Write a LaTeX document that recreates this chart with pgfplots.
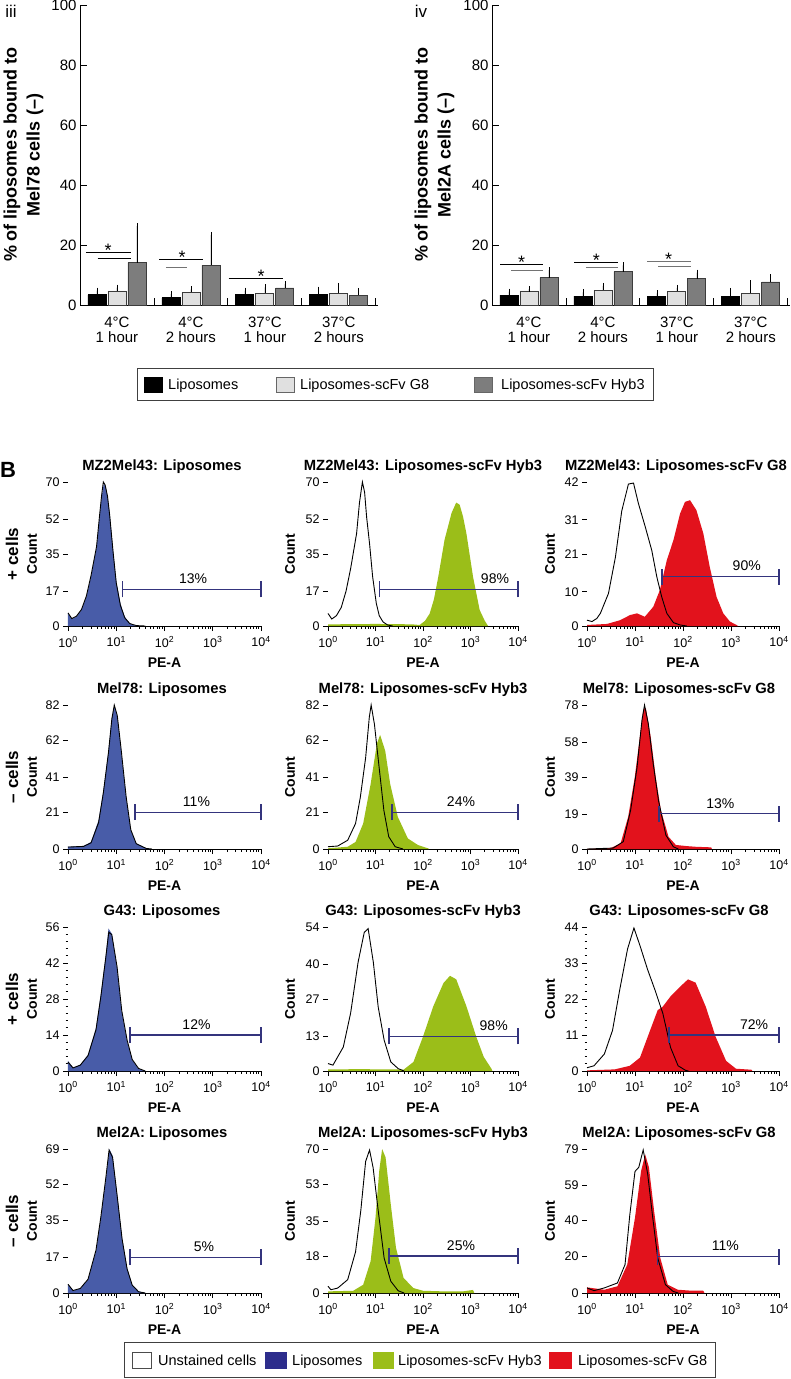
\documentclass[border=0pt]{standalone}
\usepackage{fontspec}
\setmainfont{Liberation Sans}
\usepackage{pgfplots}
\pgfplotsset{compat=1.18}
\newcommand{\fsz}[2]{\fontsize{#1}{#2}\selectfont}
\definecolor{blueF}{RGB}{72,92,168}
\definecolor{blueL}{RGB}{45,45,140}
\definecolor{greenF}{RGB}{155,190,25}
\definecolor{redF}{RGB}{226,18,28}
\definecolor{gatec}{RGB}{52,52,125}
\definecolor{lightbar}{RGB}{224,224,224}
\definecolor{darkbar}{RGB}{125,125,125}
\definecolor{baredge}{RGB}{60,60,60}
\definecolor{sigg}{RGB}{115,115,115}
\pgfplotsset{
  histax/.style={
    scale only axis, height=144pt,
    xmin=1, xmax=10000, ymin=0,
    axis x line*=bottom, axis y line*=left,
    x axis line style={-, black, line width=0.8pt},
    y axis line style={-, draw=none},
    tick align=outside,
    xtick={1,10,100,1000,10000},
    xticklabels={10\textsuperscript{0},10\textsuperscript{1},10\textsuperscript{2},10\textsuperscript{3},10\textsuperscript{4}},
    minor xtick={2,3,4,5,6,7,8,9,20,30,40,50,60,70,80,90,200,300,400,500,600,700,800,900,2000,3000,4000,5000,6000,7000,8000,9000},
    major tick length=5pt, minor tick length=2.5pt,
    minor y tick num=4,
    every tick/.style={black, line width=0.8pt},
    ticklabel style={font=\fsz{12.5}{14}},
    xticklabel style={yshift=-2pt},
    clip=false,
  }
}
\pgfplotsset{
  barax/.style={
    scale only axis, ybar=2pt, bar width=18pt, ymin=0, ymax=100,
    axis x line*=bottom, axis y line*=left,
    x axis line style={-}, y axis line style={-},
    axis line style={black, line width=0.8pt},
    xtick={0,1,2,3},
    xticklabels={{4°C\\1 hour},{4°C\\2 hours},{37°C\\1 hour},{37°C\\2 hours}},
    ytick={0,20,40,60,80,100},
    tick align=inside, major tick length=7pt, minor tick length=7pt,
    major x tick style={draw=none},
    minor xtick={0.5,1.5,2.5,3.5},
    every tick/.style={black, line width=0.8pt},
    ticklabel style={font=\fsz{15}{15}},
    xticklabel style={align=center, yshift=-8pt},
    error bars/y dir=plus, error bars/y explicit,
    error bars/error bar style={black, line width=0.7pt},
    error bars/error mark options={black, line width=0.7pt, mark size=3pt},
    clip=false,
  }
}
\pgfplotsset{/pgf/number format/assume math mode=true}
\tikzset{
  star/.style={font=\fsz{18}{18}, anchor=base, yshift=-4pt, inner sep=0pt},
  htitle/.style={font=\bfseries\fsz{14.8}{17}, anchor=base, inner sep=0pt},
  hx/.style={font=\bfseries\fsz{14}{16}, anchor=base, inner sep=0pt},
  hy/.style={font=\bfseries\fsz{14}{16}, rotate=90, inner sep=0pt},
  rowl/.style={font=\bfseries\fsz{17}{18}, rotate=90, inner sep=0pt},
  legt/.style={font=\fsz{14.5}{16}, anchor=base west, inner sep=0pt},
}
\newcommand{\gate}[4]{%
  \draw[gatec, line width=1.1pt] (axis cs:#1,#2) -- (axis cs:10000,#2);
  \draw[gatec, line width=1.1pt] ([yshift=-8pt]axis cs:#1,#2) -- ([yshift=8pt]axis cs:#1,#2);
  \draw[gatec, line width=1.1pt] ([yshift=-8pt]axis cs:10000,#2) -- ([yshift=8pt]axis cs:10000,#2);
  \node[font=\fsz{14}{16}, inner sep=0pt] at ([yshift=10.5pt]axis cs:#3,#2) {#4};
}
\begin{document}
\begin{tikzpicture}
\useasboundingbox (0pt,0pt) rectangle (790pt,-1379pt);

% ---------------- bar chart iii ----------------
\node[font=\fsz{17}{18}, inner sep=0pt] at (11pt,-11pt) {iii};
\node[font=\bfseries\fsz{18}{23}, rotate=90, align=center, inner sep=0pt] at (23.5pt,-155pt) {\% of liposomes bound to\\Mel78 cells (–)};
\begin{axis}[barax, at={(80pt,-305pt)}, anchor=south west, width=298pt, height=300pt, xmin=-0.5, xmax=3.53]
\addplot[fill=black, draw=black, line width=0.8pt] coordinates {(0,3.4) +- (0,1.4) (1,2.4) +- (0,1.2) (2,3.6) +- (0,1.2) (3,3.6) +- (0,1.5)};
\addplot[fill=lightbar, draw=baredge, line width=0.8pt] coordinates {(0,4.7) +- (0,1.1) (1,4.2) +- (0,1.0) (2,4.0) +- (0,1.9) (3,3.9) +- (0,2.5)};
\addplot[fill=darkbar, draw=baredge, line width=0.8pt] coordinates {(0,14.1) +- (0,12.2) (1,13.2) +- (0,10.2) (2,5.7) +- (0,1.3) (3,3.3) +- (0,1.4)};
\draw[black, line width=0.9pt] (axis cs:-0.42,17.4) -- (axis cs:0.19,17.4);
\draw[black, line width=0.9pt] (axis cs:-0.26,15.4) -- (axis cs:0.19,15.4);
\node[star] at (axis cs:-0.12,17.4) {*};
\draw[black, line width=0.9pt] (axis cs:0.57,15.3) -- (axis cs:1.16,15.3);
\draw[sigg, line width=0.9pt] (axis cs:0.66,12.4) -- (axis cs:0.95,12.4);
\node[star] at (axis cs:0.88,15.3) {*};
\draw[black, line width=0.9pt] (axis cs:1.51,9.0) -- (axis cs:2.24,9.0);
\node[star] at (axis cs:1.95,9.0) {*};
\end{axis}

% ---------------- bar chart iv ----------------
\node[font=\fsz{17}{18}, inner sep=0pt] at (421pt,-11pt) {iv};
\node[font=\bfseries\fsz{18}{23}, rotate=90, align=center, inner sep=0pt] at (434.5pt,-155pt) {\% of liposomes bound to\\Mel2A cells (–)};
\begin{axis}[barax, at={(492pt,-305pt)}, anchor=south west, width=298pt, height=300pt, xmin=-0.5, xmax=3.53]
\addplot[fill=black, draw=black, line width=0.8pt] coordinates {(0,3.3) +- (0,1.2) (1,3.0) +- (0,1.2) (2,2.9) +- (0,1.0) (3,2.9) +- (0,1.8)};
\addplot[fill=lightbar, draw=baredge, line width=0.8pt] coordinates {(0,4.7) +- (0,0.6) (1,5.0) +- (0,1.4) (2,4.6) +- (0,1.1) (3,4.0) +- (0,3.2)};
\addplot[fill=darkbar, draw=baredge, line width=0.8pt] coordinates {(0,9.1) +- (0,2.5) (1,11.1) +- (0,2.1) (2,8.8) +- (0,2.0) (3,7.7) +- (0,1.6)};
\draw[black, line width=0.9pt] (axis cs:-0.39,13.6) -- (axis cs:0.19,13.6);
\draw[sigg, line width=0.9pt] (axis cs:-0.24,11.6) -- (axis cs:0.19,11.6);
\node[star] at (axis cs:-0.1,13.6) {*};
\draw[black, line width=0.9pt] (axis cs:0.61,14.2) -- (axis cs:1.21,14.2);
\draw[sigg, line width=0.9pt] (axis cs:0.77,12.6) -- (axis cs:1.21,12.6);
\node[star] at (axis cs:0.91,14.2) {*};
\draw[sigg, line width=0.9pt] (axis cs:1.6,14.6) -- (axis cs:2.19,14.6);
\draw[sigg, line width=0.9pt] (axis cs:1.75,12.8) -- (axis cs:2.19,12.8);
\node[star] at (axis cs:1.89,14.6) {*};
\end{axis}

% top legend
\draw[black!75, line width=0.8pt] (137pt,-368pt) rectangle (653pt,-400pt);
\filldraw[fill=black, draw=black] (144pt,-377pt) rectangle (162pt,-392pt);
\node[legt] at (168pt,-389.7pt) {Liposomes};
\filldraw[fill=lightbar, draw=black!60] (276pt,-377pt) rectangle (294pt,-392pt);
\node[legt] at (300pt,-389.7pt) {Liposomes-scFv G8};
\filldraw[fill=darkbar, draw=black!60] (474.6pt,-377pt) rectangle (492.6pt,-392pt);
\node[legt] at (501pt,-389.7pt) {Liposomes-scFv Hyb3};

% ---------------- B ----------------
\node[font=\bfseries\fsz{22}{24}, inner sep=0pt] at (8pt,-470pt) {B};

% Row labels
\node[rowl] at (12pt,-554pt) {+ cells};
\node[rowl] at (12pt,-777pt) {– cells};
\node[rowl] at (12pt,-999pt) {+ cells};
\node[rowl] at (12pt,-1221pt) {– cells};

% Count labels and PE-A labels
\foreach \z in {626,849,1071,1293} {
  \node[hy] at (32pt,-\z pt+72pt) {Count};
  \node[hy] at (290pt,-\z pt+72pt) {Count};
  \node[hy] at (550pt,-\z pt+72pt) {Count};
  \node[hx] at (164.5pt,-\z pt-41pt) {PE-A};
  \node[hx] at (423pt,-\z pt-41pt) {PE-A};
  \node[hx] at (683pt,-\z pt-41pt) {PE-A};
}
\node[htitle] at (162pt,-470pt) {MZ2Mel43: Liposomes};
\node[htitle] at (423pt,-470pt) {MZ2Mel43: Liposomes-scFv Hyb3};
\node[htitle] at (676pt,-470pt) {MZ2Mel43: Liposomes-scFv G8};
\node[htitle] at (162pt,-693pt) {Mel78: Liposomes};
\node[htitle] at (423pt,-693pt) {Mel78: Liposomes-scFv Hyb3};
\node[htitle] at (679pt,-693pt) {Mel78: Liposomes-scFv G8};
\node[htitle] at (162pt,-915pt) {G43: Liposomes};
\node[htitle] at (423pt,-915pt) {G43: Liposomes-scFv Hyb3};
\node[htitle] at (679pt,-915pt) {G43: Liposomes-scFv G8};
\node[htitle] at (162pt,-1137pt) {Mel2A: Liposomes};
\node[htitle] at (423pt,-1137pt) {Mel2A: Liposomes-scFv Hyb3};
\node[htitle] at (679pt,-1137pt) {Mel2A: Liposomes-scFv G8};

% ===== Row 1 =====
\begin{semilogxaxis}[histax, at={(68pt,-626pt)}, anchor=south west, width=193pt, ymax=70, ytick={0,17,35,52,70}]
\addplot[fill=blueF, draw=none] coordinates {(1,6.1) (1.2,3.4) (1.5,4.5) (1.9,7.8) (2.4,14) (3.0,24) (3.9,38) (4.5,53) (5.0,63) (5.5,69) (6.0,68) (6.6,63) (7.3,55) (8.6,37) (10,22) (12.2,11) (15,4.5) (19,1.3) (26,0)} \closedcycle;
\addplot[black, line width=0.9pt] coordinates {(1,6.4) (1.2,3.6) (1.5,4.8) (1.9,8) (2.4,14.5) (3.0,24.5) (3.9,38.5) (4.5,53.5) (5.0,64) (5.4,70) (5.9,68.5) (6.6,63) (7.3,54) (8.6,36) (10,21) (12.2,10) (15,4) (19,1.2) (26,0.2) (40,0)};
\gate{13.2}{17.8}{390}{13\%}
\end{semilogxaxis}
\begin{semilogxaxis}[histax, at={(328pt,-626pt)}, anchor=south west, width=190pt, ymax=70, ytick={0,17,35,52,70}]
\addplot[fill=greenF, draw=none] coordinates {(1,0.8) (3,0.9) (10,1) (30,0.9) (60,0.8) (85,0.5) (110,2.5) (138,6) (170,13) (210,24) (285,42) (400,55) (500,60) (590,59) (700,53) (820,45) (1130,24) (1560,7.8) (2000,2.5) (2350,0)} \closedcycle;
\addplot[black, line width=0.9pt] coordinates {(1,6.1) (1.2,3.4) (1.5,5) (1.9,9) (2.4,17) (3.0,28) (4.0,45) (4.6,60) (5.3,70) (5.9,65) (6.5,53) (7.5,40) (8.7,24) (10.4,11) (12,5) (14.4,2) (18,0.5) (23,0)};
\gate{12}{17.8}{3280}{98\%}
\end{semilogxaxis}
\begin{semilogxaxis}[histax, at={(587pt,-626pt)}, anchor=south west, width=192pt, ymax=42, ytick={0,10,21,31,42}]
\addplot[fill=redF, draw=none] coordinates {(1,0.3) (2.6,0.6) (4.9,1.7) (7.9,3.2) (11,3.7) (16,2.7) (24,5.6) (33,10.5) (46,19.2) (63,25) (87,32.8) (110,36.2) (140,36.7) (190,33.8) (265,27) (360,17.3) (500,8.5) (690,3.7) (950,1.3) (1300,0.3) (1400,0)} \closedcycle;
\addplot[black, line width=0.9pt] coordinates {(1,1.7) (1.27,1.3) (1.6,2.2) (1.9,3.7) (2.8,9.5) (3.9,20) (5.3,33.6) (7.3,41.4) (9.3,41.7) (11.8,35.7) (16.3,29) (22.4,22) (28.4,14.4) (36,8.5) (46,3.7) (63,1) (87,0.3) (120,0)};
\gate{36.5}{14.4}{2125}{90\%}
\end{semilogxaxis}

% ===== Row 2 =====
\begin{semilogxaxis}[histax, at={(68pt,-849pt)}, anchor=south west, width=193pt, ymax=82, ytick={0,21,41,62,82}]
\addplot[fill=blueF, draw=none] coordinates {(1,1.3) (2.1,1.7) (3,4) (4.3,16.4) (5.4,33) (6.9,56) (8.1,75) (9.2,81.5) (10.6,75) (12.6,56) (16,29.6) (20,10.8) (26,3.2) (42,0.4) (50,0)} \closedcycle;
\addplot[black, line width=0.9pt] coordinates {(1,1.1) (2.1,1.5) (3,3.5) (4.3,15) (5.4,32) (6.9,55) (8.1,74) (9.1,82) (10.5,76) (12.6,57) (16,30) (20,11) (26,3) (42,0.3) (55,0)};
\gate{24.5}{21}{460}{11\%}
\end{semilogxaxis}
\begin{semilogxaxis}[histax, at={(328pt,-849pt)}, anchor=south west, width=190pt, ymax=82, ytick={0,21,41,62,82}]
\addplot[fill=greenF, draw=none] coordinates {(1,0.4) (2.6,1.3) (3.8,4) (5.5,14.5) (7.9,37) (10.7,60) (12.5,65) (16,56) (20.4,37) (29.5,18.3) (48,6) (78,2.3) (127,0.4) (135,0)} \closedcycle;
\addplot[black, line width=0.9pt] coordinates {(1,1.3) (1.6,1.7) (2.6,5) (3.8,14.5) (4.8,29.6) (6.2,52) (7.4,75) (8.1,82) (9.5,71) (11.7,48.5) (15,22) (19,7) (26,1.3) (38,0)};
\gate{22.2}{21}{631}{24\%}
\end{semilogxaxis}
\begin{semilogxaxis}[histax, at={(587pt,-849pt)}, anchor=south west, width=192pt, ymax=78, ytick={0,19,39,58,78}]
\addplot[fill=redF, draw=none] coordinates {(1,0) (3.1,0.5) (5,3) (7.2,17.4) (9.9,39) (12.6,60.6) (14.9,75.6) (16.8,76.5) (21.3,60.6) (27,39) (34.6,21) (50,6.6) (71,2.2) (116,1.6) (187,1.2) (387,0.9) (400,0)} \closedcycle;
\addplot[black, line width=0.9pt] coordinates {(1,0) (3.5,0.5) (5.7,4) (8.1,21) (11,44) (14,70) (15.8,78) (19,67.6) (24,46) (31,26) (44,7.5) (63,1.2) (80,0)};
\gate{31.6}{19}{601}{13\%}
\end{semilogxaxis}

% ===== Row 3 =====
\begin{semilogxaxis}[histax, at={(68pt,-1071pt)}, anchor=south west, width=193pt, ymax=56, ytick={0,14,28,42,56}]
\addplot[fill=blueF, draw=none] coordinates {(1,3.9) (1.27,1.3) (1.8,2.4) (2.6,6.3) (3.8,16.8) (4.8,30) (6.1,45.5) (6.9,55.4) (8.1,53.4) (10.4,40) (13,23) (16.8,11.5) (21.4,4.3) (29,0.8) (40,0)} \closedcycle;
\addplot[black, line width=0.9pt] coordinates {(1,3.5) (1.27,1.2) (1.8,2.3) (2.6,6) (3.8,16) (4.8,29) (6.1,44.5) (7.0,54) (8.1,53) (10.4,40.5) (13,23.5) (16.8,12) (21.4,4.5) (29,1) (40,0)};
\gate{19.3}{14}{460}{12\%}
\end{semilogxaxis}
\begin{semilogxaxis}[histax, at={(328pt,-1071pt)}, anchor=south west, width=190pt, ymax=54, ytick={0,13,27,40,54}]
\addplot[fill=greenF, draw=none] coordinates {(1,0.6) (5,0.7) (15,0.6) (30,0.6) (39,0.5) (63,3.4) (100,12.9) (165,24.3) (270,33) (370,35.7) (500,34.4) (820,24.3) (1320,12.9) (1900,5.3) (2750,0.9) (2900,0)} \closedcycle;
\addplot[black, line width=0.9pt] coordinates {(1,2.8) (1.27,2.2) (2.1,9) (3,21.8) (4.3,40.8) (5.8,52) (7,53.4) (9,40.8) (11.4,24) (15.2,11.6) (21,3.4) (30,0.9) (40,0)};
\gate{19.2}{13}{3080}{98\%}
\end{semilogxaxis}
\begin{semilogxaxis}[histax, at={(587pt,-1071pt)}, anchor=south west, width=192pt, ymax=44, ytick={0,11,22,33,44}]
\addplot[fill=redF, draw=none] coordinates {(1,0.2) (3.8,0.5) (7.8,1.6) (12.7,4.1) (20.6,12.4) (29.7,18.6) (38,19.7) (55,22.8) (89,25.9) (127,28) (183,27) (297,19.7) (480,10.4) (790,3.1) (1270,0.7) (2650,0.4) (2800,0)} \closedcycle;
\addplot[black, line width=0.9pt] coordinates {(1,1) (1.4,1.6) (2.3,5.2) (3.4,12.4) (4.8,24.8) (7,37.3) (9.5,43.7) (12.7,38.3) (18.3,31) (26,24.8) (38,17.6) (55,7.2) (79,1.6) (113,0.2) (130,0)};
\gate{51}{11}{3015}{72\%}
\end{semilogxaxis}

% ===== Row 4 =====
\begin{semilogxaxis}[histax, at={(68pt,-1293pt)}, anchor=south west, width=193pt, ymax=69, ytick={0,17,35,52,69}]
\addplot[fill=blueF, draw=none] coordinates {(1,4) (1.27,1.1) (1.8,2.1) (2.6,6.4) (3.8,20) (4.8,36) (6.1,55) (7.2,69) (8.4,65.8) (10.4,47.4) (13.2,26.5) (16.8,12) (21.4,4) (29,0.8) (40,0)} \closedcycle;
\addplot[black, line width=0.9pt] coordinates {(1,4.2) (1.27,1.2) (1.8,2.2) (2.6,6.6) (3.8,20.5) (4.8,36.5) (6.1,55.5) (7.1,68.5) (8.4,65) (10.4,47) (13.2,26) (16.8,11.5) (21.4,3.8) (29,0.6) (40,0)};
\gate{19.3}{17.2}{658}{5\%}
\end{semilogxaxis}
\begin{semilogxaxis}[histax, at={(328pt,-1293pt)}, anchor=south west, width=190pt, ymax=70, ytick={0,18,35,53,70}]
\addplot[fill=greenF, draw=none] coordinates {(1,0.8) (3.4,1.1) (5.5,4) (7.9,15.5) (10,36.6) (12,59.5) (13.8,70) (16.3,66) (21,43) (27,22) (39,7.3) (63,2.4) (100,1.1) (263,0.8) (700,0.8) (1130,1.5) (1200,0)} \closedcycle;
\addplot[black, line width=0.9pt] coordinates {(1,3.3) (1.15,1.6) (1.6,2.4) (2.6,6.5) (3.8,20) (4.9,40) (6.2,64) (7.5,69.5) (8.9,61) (11.4,40) (15.2,17) (21,5.7) (30,1.1) (40,0)};
\gate{19.2}{18}{631}{25\%}
\end{semilogxaxis}
\begin{semilogxaxis}[histax, at={(587pt,-1293pt)}, anchor=south west, width=192pt, ymax=79, ytick={0,20,40,59,79}]
\addplot[fill=redF, draw=none] coordinates {(1,3.1) (2.3,1.8) (4.3,3.7) (6.9,15.6) (10,41.4) (13.4,67) (16.3,76) (19.5,69) (25,45) (33.6,19.3) (48,4.6) (78,1.8) (144,1.3) (263,1.3) (280,0)} \closedcycle;
\addplot[black, line width=0.9pt] coordinates {(1,2.8) (1.4,1.3) (2.3,2.8) (4.3,5.5) (6.2,15.6) (7.8,43) (10,66.7) (12,69) (14.8,78.5) (18.3,65.6) (23.4,41.4) (29.7,19.3) (43,4.6) (62,0.9) (80,0)};
\gate{29.3}{20}{764}{11\%}
\end{semilogxaxis}

% bottom legend
\draw[black!75, line width=0.8pt] (124pt,-1342pt) rectangle (715pt,-1377.5pt);
\filldraw[fill=white, draw=black!70] (132pt,-1352pt) rectangle (151pt,-1368pt);
\node[legt] at (158pt,-1365.2pt) {Unstained cells};
\filldraw[fill=blueL, draw=blueL] (265pt,-1352pt) rectangle (286pt,-1368pt);
\node[legt] at (292pt,-1365.2pt) {Liposomes};
\filldraw[fill=greenF, draw=greenF] (373pt,-1352pt) rectangle (393pt,-1368pt);
\node[legt] at (398pt,-1365.2pt) {Liposomes-scFv Hyb3};
\filldraw[fill=redF, draw=redF] (549pt,-1352pt) rectangle (571pt,-1368pt);
\node[legt] at (578pt,-1365.2pt) {Liposomes-scFv G8};
\end{tikzpicture}
\end{document}
